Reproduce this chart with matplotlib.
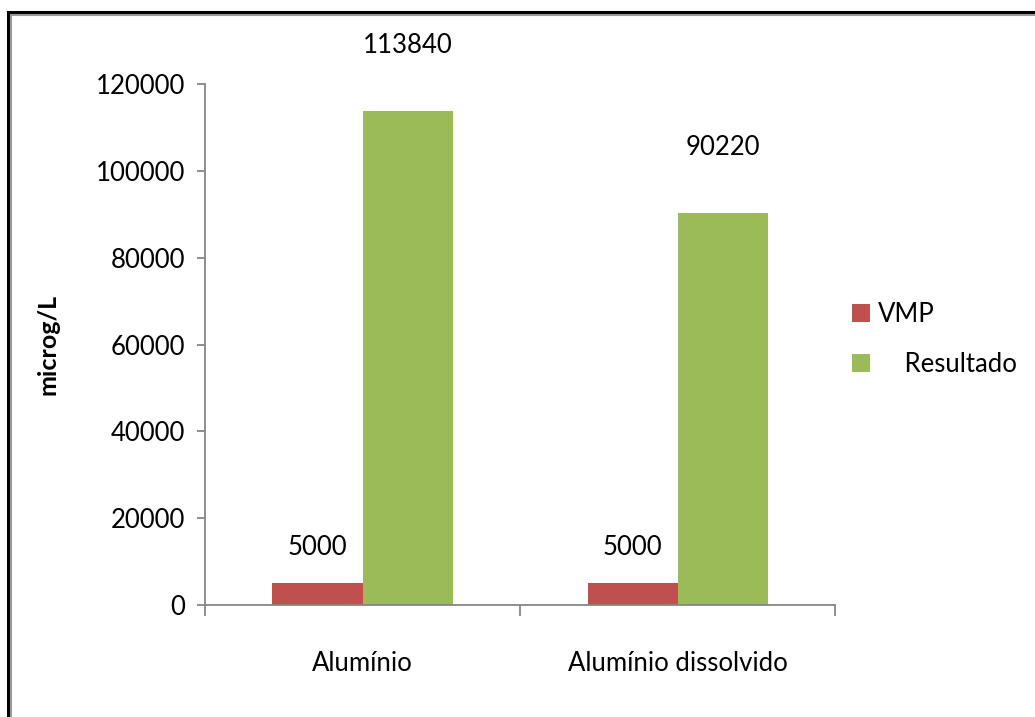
import matplotlib.pyplot as plt
import matplotlib.patches as mpatches
import numpy as np

plt.rcParams['font.family'] = ['Lato', 'DejaVu Sans']

categorias = ['Alumínio', 'Alumínio dissolvido']
series = ['VMP', 'Resultado']
vmp = [5000, 5000]
resultado = [113840, 90220]
cores = ['#C0504D', '#9BBB59']

fig = plt.figure(figsize=(10.35, 7.17), dpi=100)
ax = fig.add_axes([0.198, 0.156, 0.609, 0.727])

x = np.arange(len(categorias))
w = 0.286
b1 = ax.bar(x - w / 2, vmp, width=w, color=cores[0], label=series[0])
b2 = ax.bar(x + w / 2, resultado, width=w, color=cores[1], label='    ' + series[1])

# rotulos de valor acima das barras
for rect, v in zip(b1, vmp):
    ax.annotate(str(v), (rect.get_x() + rect.get_width() / 2, v),
                xytext=(0, 17), textcoords='offset points',
                ha='center', va='bottom', fontsize=18.5)
for rect, v in zip(b2, resultado):
    ax.annotate(str(v), (rect.get_x() + rect.get_width() / 2, v),
                xytext=(0, 38), textcoords='offset points',
                ha='center', va='bottom', fontsize=18.5)

ax.set_xlim(-0.5, 1.5)
ax.set_ylim(0, 120000)
ax.set_yticks(np.arange(0, 120001, 20000))
ax.set_xticks(x)
ax.set_xticklabels(categorias, fontsize=18.5)
ax.set_xticks([-0.5, 0.5, 1.5], minor=True)
ax.tick_params(axis='x', which='major', length=0, pad=33)
ax.tick_params(axis='x', which='minor', length=8, color='#868686', width=1.3)
ax.tick_params(axis='y', length=6, color='#868686', width=1.3, labelsize=18.5, pad=8)

for s in ['top', 'right']:
    ax.spines[s].set_visible(False)
for s in ['left', 'bottom']:
    ax.spines[s].set_color('#868686')
    ax.spines[s].set_linewidth(1.3)

ax.set_ylabel('microg/L', fontsize=18, fontweight='bold', labelpad=26)

ax.legend(loc='center left', bbox_to_anchor=(0.99, 0.51), frameon=False,
          fontsize=18.5, handlelength=0.7, handleheight=0.7, handletextpad=0.3,
          labelspacing=0.95)

# moldura do grafico
fig.patches.append(mpatches.Rectangle((8 / 1035, -0.1), 1.2, 0.1 + 705 / 717,
                                      transform=fig.transFigure, fill=False,
                                      edgecolor='black', lw=2.2))
fig.patches.append(mpatches.Rectangle((11 / 1035, -0.1), 1.2, 0.1 + 702 / 717,
                                      transform=fig.transFigure, fill=False,
                                      edgecolor='#999999', lw=1.5))

fig.savefig('out.png', dpi=100)
